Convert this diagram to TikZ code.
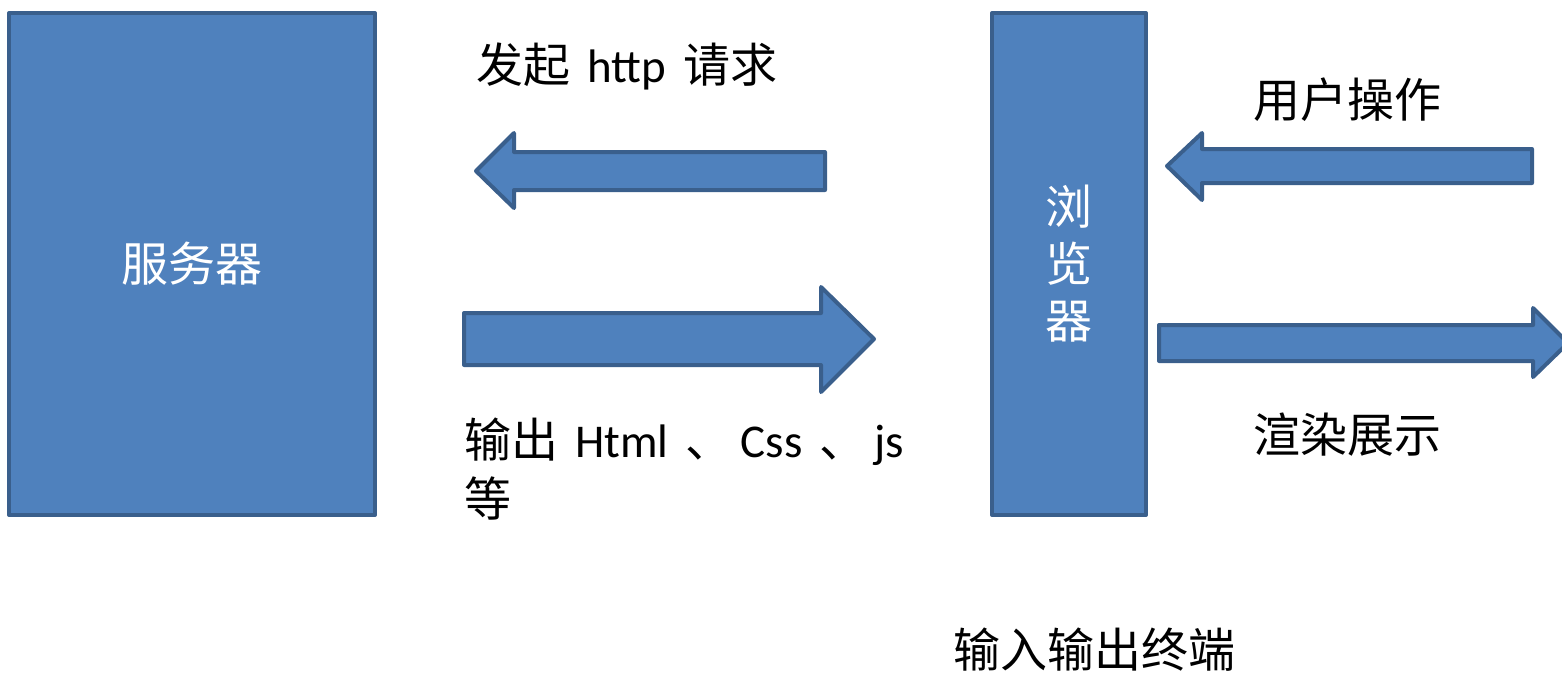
\documentclass[tikz,border=0pt]{standalone}
\usepackage{fontspec}
\newfontfamily\cjk{Noto Sans CJK SC}
\newfontfamily\lat[WordSpace=1.6]{Carlito}
\definecolor{boxfill}{HTML}{4F81BD}
\definecolor{boxline}{HTML}{3A5F8C}
\begin{document}
\begin{tikzpicture}[x=0.5pt,y=-0.5pt,
  blk/.style={fill=boxfill,draw=boxline,line width=2pt,line join=round},
  boxnode/.style={blk,inner sep=0pt,text=white,align=center,font=\cjk\fontsize{23.5pt}{28.5pt}\selectfont},
  lbl/.style={inner sep=0pt,anchor=base west,align=left,font=\cjk\fontsize{23.5pt}{29.5pt}\selectfont}]
\useasboundingbox (0,0) rectangle (1562,677);
\clip (0,0) rectangle (1562,677);
% boxes
\node[boxnode,minimum width=183pt,minimum height=251pt] (server) at (192,264) {服务器};
\node[boxnode,minimum width=77pt,minimum height=251pt] (browser) at (1069,264) {\raisebox{-2pt}{浏}\\\raisebox{-2pt}{览}\\\raisebox{-2pt}{器}};
% block arrows
\path[blk] (825,152) -- (514,152) -- (514,133) -- (476,171) -- (514,208) -- (514,190) -- (825,190) -- cycle;
\path[blk] (464,313) -- (821,313) -- (821,287) -- (874,339) -- (821,392) -- (821,365) -- (464,365) -- cycle;
\path[blk] (1532,149) -- (1202,149) -- (1202,133) -- (1167,166) -- (1202,200) -- (1202,183) -- (1532,183) -- cycle;
\path[blk] (1159,325) -- (1533,325) -- (1533,308) -- (1568,343) -- (1533,377) -- (1533,361) -- (1159,361) -- cycle;
% labels
\node[lbl] (req) at (476,82) {发起\lat{} http \cjk 请求};
\node[lbl] (out) at (464,516) {输出\lat{} Html \cjk 、\hspace{4pt}\lat Css \cjk 、\hspace{4pt}\lat js\\\cjk 等};
\node[lbl] (op) at (1253,117) {用户操作};
\node[lbl] (render) at (1253,452) {渲染展示};
\node[lbl] (io) at (953,667) {输入输出终端};
\end{tikzpicture}
\end{document}
